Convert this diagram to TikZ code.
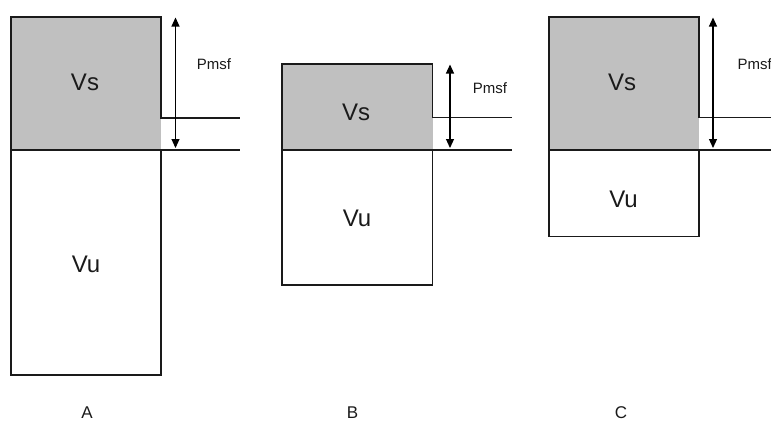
\documentclass[tikz,border=0pt]{standalone}
\usepackage{fontspec}
\setmainfont{Liberation Sans}
\usetikzlibrary{arrows.meta}
\definecolor{vsgrey}{HTML}{C0C0C0}
\definecolor{ink}{HTML}{1A1A1A}
\tikzset{
  outline/.style={draw=ink, line width=1.4pt},
  volfill/.style={fill=vsgrey},
  biglabel/.style={font=\fontsize{24}{28}\selectfont, text=ink, inner sep=0pt},
  smalllabel/.style={font=\fontsize{15}{17}\selectfont, text=ink, inner sep=0pt},
  caselabel/.style={font=\fontsize{17}{20}\selectfont, text=ink, inner sep=0pt},
  dimarrow/.style={draw=black, line width=1.1pt, {Triangle[length=9pt,width=8pt]}-{Triangle[length=9pt,width=8pt]}}
}
\begin{document}
\begin{tikzpicture}[x=1pt,y=-1pt]
\useasboundingbox (0,0) rectangle (771,421);
% ---------- A ----------
\fill[volfill] (11,17) rectangle (161,150);
\draw[outline] (11,150) -- (11,17) -- (161,17) -- (161,118) -- (240,118);
\draw[outline] (11,150) rectangle (161,375);
\draw[outline] (161,150) -- (240,150);
\coordinate (a1) at (175.5,17.5);
\coordinate (a2) at (175.5,148);
\draw[dimarrow] (a1) -- (a2);
\node[biglabel] (vsA) at (85,82) {Vs};
\node[biglabel] (vuA) at (86,264) {Vu};
\node[smalllabel] (pA) at (214,64) {Pmsf};
\node[caselabel] (lA) at (87,413) {A};
% ---------- B ----------
\fill[volfill] (282,64) rectangle (432.5,150);
\draw[outline] (282,150) -- (282,64) -- (432.5,64) -- (432.5,117.5) -- (512,117.5);
\draw[outline] (282,150) rectangle (432.5,285);
\draw[outline] (432.5,150) -- (512,150);
\coordinate (b1) at (450,64.5);
\coordinate (b2) at (450,148);
\draw[dimarrow] (b1) -- (b2);
\node[biglabel] (vsB) at (356,112) {Vs};
\node[biglabel] (vuB) at (357,218) {Vu};
\node[smalllabel] (pB) at (490,88) {Pmsf};
\node[caselabel] (lB) at (352.5,413) {B};
% ---------- C ----------
\fill[volfill] (549,17) rectangle (699,150);
\draw[outline] (549,150) -- (549,17) -- (699,17) -- (699,117.5) -- (771,117.5);
\draw[outline] (549,150) rectangle (699,236.5);
\draw[outline] (699,150) -- (771,150);
\coordinate (c1) at (713,17.5);
\coordinate (c2) at (713,148);
\draw[dimarrow] (c1) -- (c2);
\node[biglabel] (vsC) at (622,82) {Vs};
\node[biglabel] (vuC) at (623.5,199) {Vu};
\node[smalllabel, anchor=west] (pC) at (737.5,64) {Pmsf};
\node[caselabel] (lC) at (621,413) {C};
\end{tikzpicture}
\end{document}
